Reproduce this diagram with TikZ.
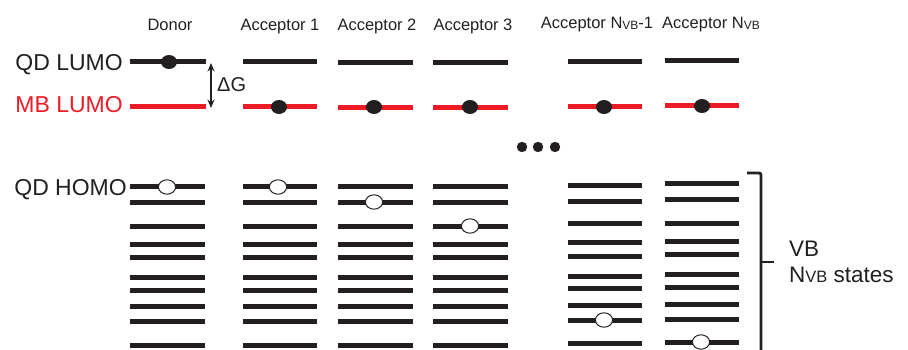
\documentclass[tikz,border=0pt]{standalone}
\usepackage{fontspec}
\setmainfont{Liberation Sans}
\usetikzlibrary{arrows.meta}
\definecolor{mbred}{RGB}{237,28,36}
\definecolor{ink}{RGB}{35,31,32}
\newcommand\subVB[1][12.5]{\raisebox{-0.5pt}{\fontsize{#1}{#1}\selectfont VB}}
\begin{document}
\begin{tikzpicture}[x=1pt,y=-1pt,
  lvl/.style={line width=5pt, draw=ink},
  redlvl/.style={line width=5pt, draw=mbred},
  head/.style={anchor=base, inner sep=0pt, font=\fontsize{16.5}{16.5}\selectfont, text=ink},
  side/.style={anchor=base east, inner sep=0pt, font=\fontsize{23}{23}\selectfont, text=ink},
  elec/.style={fill=ink},
  hole/.style={fill=white, draw=ink, line width=1pt}]
\useasboundingbox (0,0) rectangle (908,350);
\clip (0,0) rectangle (908,350);

% column headers
\node[head] (hD) at (170,31) {Donor};
\node[head] (h1) at (280,31) {Acceptor 1};
\node[head] (h2) at (377,31) {Acceptor 2};
\node[head] (h3) at (473,31) {Acceptor 3};
\node[head] (hN1) at (597,29) {Acceptor N\subVB[12]-1};
\node[head] (hN) at (711,29) {Acceptor N\subVB[12]};

% side labels
\node[side] (qdl) at (123,71) {QD LUMO};
\node[side, text=mbred] (mbl) at (123,113) {MB LUMO};
\node[side] (qdh) at (127,195) {QD HOMO};

% LUMO levels
\foreach \xl/\xr/\yb/\yr in {130/206/62/107, 243/317/62/107, 338/413/63/108, 433/508/63/108, 568/642/62/107, 665/739/61/106}{
  \draw[lvl] (\xl,\yb) -- (\xr,\yb);
  \draw[redlvl] (\xl,\yr) -- (\xr,\yr);
}

% VB levels
\foreach \xl/\xr in {130/205, 243/317, 338/413, 433/508}{
  \foreach \y in {187,202,226,244,257,277,290,306,321,345}
    \draw[lvl] (\xl,\y) -- (\xr,\y);
}
\foreach \y in {186,201,223,242,256,276,288,305,320,343}
  \draw[lvl] (568,\y) -- (642,\y);
\foreach \y in {184,199,223,241,254,274,287,304,319,342}
  \draw[lvl] (665,\y) -- (739,\y);

% electrons
\foreach \x/\y in {169/62, 279/107, 374/107, 470/107, 604/107, 702/106}
  \fill[elec] (\x,\y) ellipse [x radius=8, y radius=7];

% holes
\foreach \x/\y in {167/187, 278/187, 374/202, 470/226, 604/320, 701/342}
  \filldraw[hole] (\x,\y) ellipse [x radius=8.6, y radius=7.2];

% Delta G arrow
\coordinate (gT) at (211,63);
\coordinate (gB) at (211,108);
\draw[ink, line width=1.1pt, {Stealth[length=8.5pt,width=7pt]}-{Stealth[length=8.5pt,width=7pt]}] (gT) -- (gB);
\node[anchor=base west, inner sep=0pt, font=\fontsize{20}{20}\selectfont, text=ink] (dg) at (217,92) {ΔG};

% ellipsis dots
\foreach \x in {522,538,555}
  \fill[ink] (\x,147) circle [radius=5.2];

% bracket
\draw[ink, line width=2.8pt, rounded corners=2pt]
  (747,173) -- (761,173) -- (761,262) -- (761,360);
\draw[ink, line width=2.8pt] (761,262) -- (774,262);

% VB labels
\node[anchor=base west, inner sep=0pt, font=\fontsize{22.5}{22.5}\selectfont, text=ink] (vb) at (789,256) {VB};
\node[anchor=base west, inner sep=0pt, font=\fontsize{22.5}{22.5}\selectfont, text=ink] (nvb) at (789,282) {N\subVB[16.5] states};
\end{tikzpicture}
\end{document}
